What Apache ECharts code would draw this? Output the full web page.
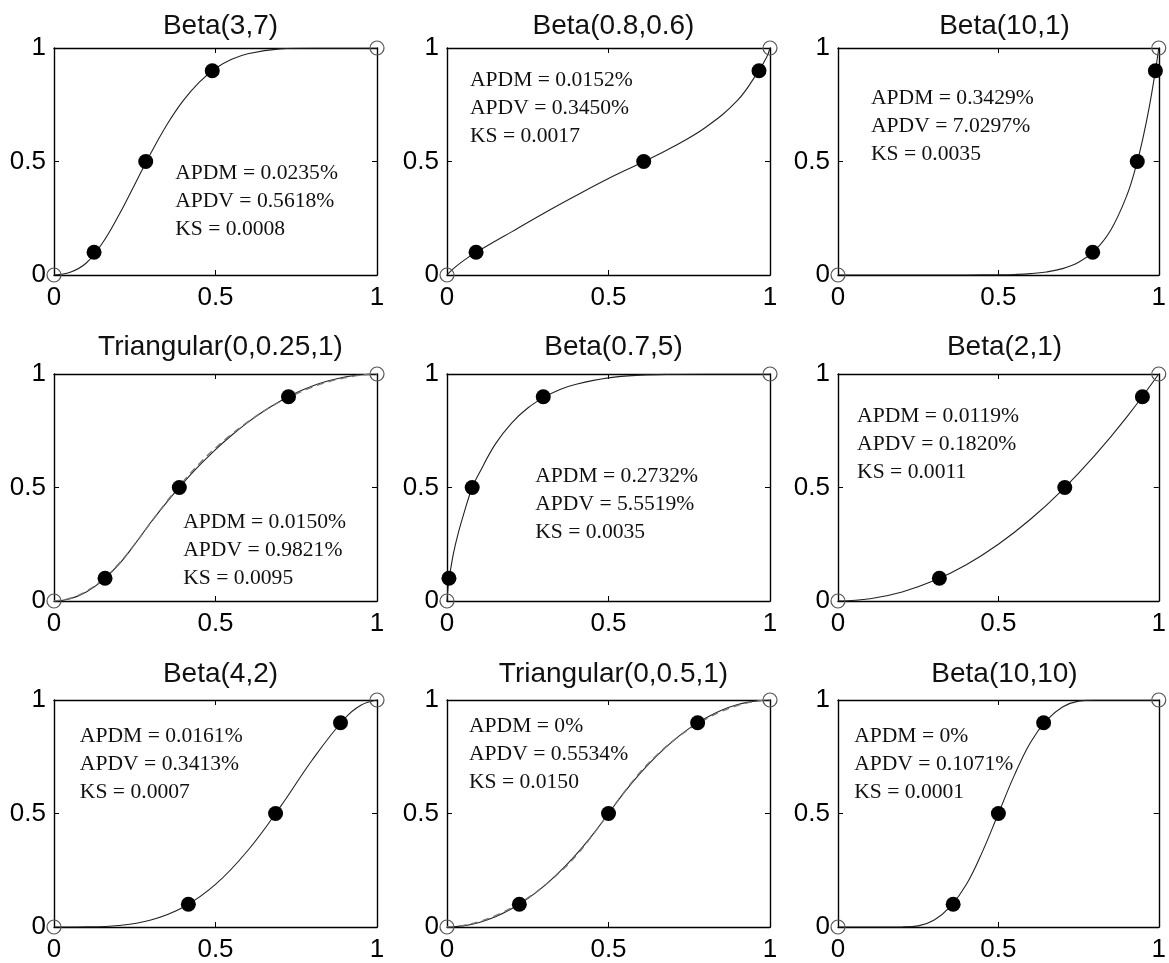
<!DOCTYPE html>
<html>
<head>
<meta charset="utf-8">
<script src="https://cdn.jsdelivr.net/npm/echarts@6/dist/echarts.min.js"></script>
<style>
html,body{margin:0;padding:0;background:#fff;}
#chart{width:1169px;height:963px;}
</style>
</head>
<body>
<div id="chart"></div>
<script>
// ---------- data ----------
const titles = ['Beta(3,7)', 'Beta(0.8,0.6)', 'Beta(10,1)',
                'Triangular(0,0.25,1)', 'Beta(0.7,5)', 'Beta(2,1)',
                'Beta(4,2)', 'Triangular(0,0.5,1)', 'Beta(10,10)'];
const tickLabels = [0, 0.5, 1];
const quantileLevels = [0.1, 0.5, 0.9];
const endpoints = [[0, 0], [1, 1]];

const beta37X = [0,0.05,0.1,0.15,0.2,0.25,0.3,0.35,0.4,0.45,0.5,0.55,0.6,0.7,0.8,0.9,1];
const beta37Y = [0,0.012,0.053,0.141,0.262,0.399,0.537,0.663,0.768,0.850,0.910,0.950,0.975,0.996,1,1,1];
const beta37Q = [0.124,0.284,0.490];

const beta0806X = [0,0.01,0.03,0.06,0.09,0.15,0.2,0.3,0.4,0.5,0.61,0.7,0.8,0.9,0.965,0.99,1];
const beta0806Y = [0,0.015,0.04,0.072,0.1,0.15,0.19,0.272,0.35,0.425,0.5,0.565,0.65,0.77,0.9,0.96,1];
const beta0806Q = [0.09,0.609,0.966];

const beta101X = [0,0.3,0.4,0.5,0.55,0.6,0.65,0.7,0.75,0.8,0.85,0.9,0.93,0.95,0.97,0.99,1];
const beta101Y = [0,0,0.0001,0.001,0.0025,0.006,0.0135,0.028,0.056,0.107,0.197,0.349,0.484,0.599,0.737,0.904,1];
const beta101Q = [0.794,0.933,0.9895];

const tri025X = [0,0.05,0.1,0.15,0.2,0.25,0.3,0.35,0.4,0.45,0.5,0.55,0.6,0.65,0.7,0.75,0.8,0.85,0.9,0.95,1];
const tri025Y = [0,0.01,0.04,0.09,0.16,0.25,0.347,0.437,0.52,0.597,0.667,0.73,0.787,0.837,0.88,0.917,0.947,0.97,0.987,0.997,1];
const tri025Fit = [0,0.012,0.043,0.094,0.163,0.25,0.346,0.44,0.527,0.605,0.674,0.735,0.789,0.837,0.878,0.913,0.943,0.966,0.983,0.995,1];
const tri025Q = [0.158,0.388,0.726];

const beta075X = [0,0.006,0.01,0.02,0.035,0.05,0.078,0.1,0.15,0.2,0.25,0.3,0.35,0.4,0.5,0.6,0.7,0.8,1];
const beta075Y = [0,0.1,0.13,0.21,0.3,0.375,0.5,0.564,0.692,0.784,0.85,0.897,0.932,0.955,0.983,0.995,0.999,1,1];
const beta075Q = [0.006,0.078,0.298];

const beta21X = [0,0.1,0.2,0.3,0.4,0.5,0.6,0.7,0.8,0.9,1];
const beta21Y = [0,0.01,0.04,0.09,0.16,0.25,0.36,0.49,0.64,0.81,1];
const beta21Q = [0.316,0.707,0.949];

const beta42X = [0,0.1,0.2,0.3,0.4,0.5,0.6,0.7,0.8,0.9,0.95,1];
const beta42Y = [0,0.0005,0.0067,0.0308,0.087,0.1875,0.337,0.528,0.737,0.9185,0.977,1];
const beta42Q = [0.416,0.686,0.887];

const tri05X = [0,0.05,0.1,0.15,0.2,0.25,0.3,0.35,0.4,0.45,0.5,0.55,0.6,0.65,0.7,0.75,0.8,0.85,0.9,0.95,1];
const tri05Y = [0,0.005,0.02,0.045,0.08,0.125,0.18,0.245,0.32,0.405,0.5,0.595,0.68,0.755,0.82,0.875,0.92,0.955,0.98,0.995,1];
const tri05Fit = [0,0.007,0.024,0.05,0.085,0.128,0.18,0.242,0.315,0.403,0.5,0.597,0.685,0.758,0.82,0.872,0.915,0.95,0.976,0.993,1];
const tri05Q = [0.224,0.5,0.776];

const beta1010X = [0,0.15,0.2,0.25,0.3,0.35,0.4,0.45,0.5,0.55,0.6,0.65,0.7,0.75,0.8,0.85,1];
const beta1010Y = [0,0.00001,0.0003,0.005,0.031,0.09,0.187,0.331,0.5,0.669,0.813,0.91,0.969,0.995,0.9997,1,1];
const beta1010Q = [0.359,0.5,0.641];

const notes = [
  ['APDM = 0.0235%', 'APDV = 0.5618%', 'KS = 0.0008'],
  ['APDM = 0.0152%', 'APDV = 0.3450%', 'KS = 0.0017'],
  ['APDM = 0.3429%', 'APDV = 7.0297%', 'KS = 0.0035'],
  ['APDM = 0.0150%', 'APDV = 0.9821%', 'KS = 0.0095'],
  ['APDM = 0.2732%', 'APDV = 5.5519%', 'KS = 0.0035'],
  ['APDM = 0.0119%', 'APDV = 0.1820%', 'KS = 0.0011'],
  ['APDM = 0.0161%', 'APDV = 0.3413%', 'KS = 0.0007'],
  ['APDM = 0%', 'APDV = 0.5534%', 'KS = 0.0150'],
  ['APDM = 0%', 'APDV = 0.1071%', 'KS = 0.0001']
];

// ---------- assemble ----------
const curves = [
  [beta37X, beta37Y, null, beta37Q],
  [beta0806X, beta0806Y, null, beta0806Q],
  [beta101X, beta101Y, null, beta101Q],
  [tri025X, tri025Y, tri025Fit, tri025Q],
  [beta075X, beta075Y, null, beta075Q],
  [beta21X, beta21Y, null, beta21Q],
  [beta42X, beta42Y, null, beta42Q],
  [tri05X, tri05Y, tri05Fit, tri05Q],
  [beta1010X, beta1010Y, null, beta1010Q]
];

// layout (pixels)
const colLeft = [54, 447, 838];
const rowTop = [48, 374, 700];
const W = 323, H = 227;
const titleTop = [7, 328, 655];
// note anchor (fraction of plot width, fraction of plot height of first cap top)
const notePos = [[0.375,0.487],[0.071,0.895],[0.102,0.816],[0.40,0.385],[0.273,0.588],[0.059,0.85],[0.08,0.876],[0.068,0.92],[0.05,0.876]];

const SANS = '"Liberation Sans", Arial, sans-serif';
const SERIF = '"Liberation Serif", "Times New Roman", serif';

const grid = [], xAxis = [], yAxis = [], series = [], title = [], graphic = [];
const zip = (a, b) => a.map((v, i) => [v, b[i]]);

curves.forEach((c, i) => {
  const r = Math.floor(i / 3), col = i % 3;
  const left = colLeft[col], top = rowTop[r];
  grid.push({left: left, top: top, width: W, height: H, containLabel: false});
  const tickCommon = {show: true, inside: true, length: 5, lineStyle: {color: '#000', width: 1}};
  const lineCommon = {show: true, onZero: false, lineStyle: {color: '#000', width: 1.4}};
  const labelStyle = {color: '#000', fontSize: 26, fontFamily: SANS};
  xAxis.push({gridIndex: i, type: 'value', min: 0, max: 1, interval: 0.5, position: 'bottom',
    axisLine: lineCommon, axisTick: tickCommon, splitLine: {show: false},
    axisLabel: Object.assign({margin: 10, formatter: v => String(tickLabels[Math.round(v * 2)])}, labelStyle)});
  xAxis.push({gridIndex: i, type: 'value', min: 0, max: 1, interval: 0.5, position: 'top',
    axisLine: lineCommon, axisTick: tickCommon, splitLine: {show: false}, axisLabel: {show: false}});
  yAxis.push({gridIndex: i, type: 'value', min: 0, max: 1, interval: 0.5, position: 'left',
    axisLine: lineCommon, axisTick: tickCommon, splitLine: {show: false},
    axisLabel: Object.assign({margin: 8, formatter: v => String(tickLabels[Math.round(v * 2)])}, labelStyle)});
  yAxis.push({gridIndex: i, type: 'value', min: 0, max: 1, interval: 0.5, position: 'right',
    axisLine: lineCommon, axisTick: tickCommon, splitLine: {show: false}, axisLabel: {show: false}});

  title.push({text: titles[i], left: left + W / 2, top: titleTop[r], textAlign: 'center',
    textStyle: {fontSize: 28, fontWeight: 'normal', color: '#111', fontFamily: SANS}});

  const xi = 2 * i, yi = 2 * i;
  series.push({type: 'line', xAxisIndex: xi, yAxisIndex: yi, data: zip(c[0], c[1]),
    smooth: 0.4, symbol: 'none', z: 2,
    lineStyle: {color: '#222', width: 1.1}});
  if (c[2]) {
    series.push({type: 'line', xAxisIndex: xi, yAxisIndex: yi, data: zip(c[0], c[2]),
      smooth: 0.4, symbol: 'none', z: 3,
      lineStyle: {color: '#777', width: 1.4, type: [7, 5]}});
  }
  series.push({type: 'scatter', xAxisIndex: xi, yAxisIndex: yi, data: zip(c[3], quantileLevels),
    symbol: 'circle', symbolSize: 15, clip: false, z: 4,
    itemStyle: {color: '#000', opacity: 1}});
  series.push({type: 'scatter', xAxisIndex: xi, yAxisIndex: yi, data: endpoints,
    symbol: 'circle', symbolSize: 14, clip: false, z: 5,
    itemStyle: {color: 'rgba(255,255,255,0)', borderColor: '#555', borderWidth: 1.2, opacity: 1}});

  const np = notePos[i];
  graphic.push({type: 'text', left: left + np[0] * W, top: top + (1 - np[1]) * H - 5,
    scaleX: 1.08, z: 10,
    style: {text: notes[i].join('\n'), fill: '#111', font: '20px ' + SERIF, lineHeight: 28}});
});

const chart = echarts.init(document.getElementById('chart'), null, {renderer: 'canvas'});
chart.setOption({
  animation: false,
  backgroundColor: '#fff',
  title: title,
  grid: grid,
  xAxis: xAxis,
  yAxis: yAxis,
  series: series,
  graphic: graphic
});
</script>
</body>
</html>
